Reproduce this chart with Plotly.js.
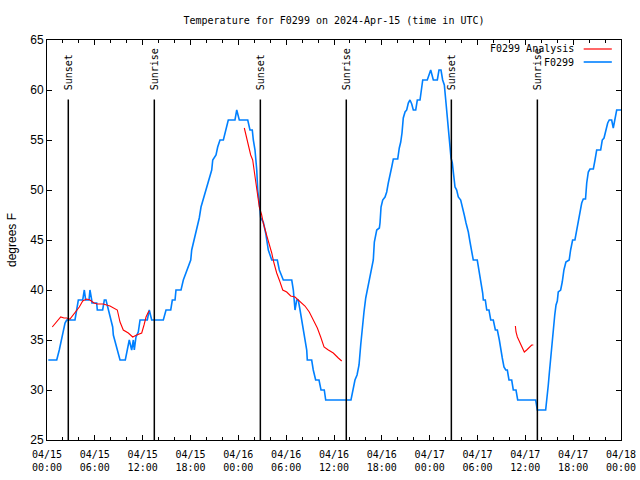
<!DOCTYPE html>
<html>
<head>
<meta charset="utf-8">
<script src="https://cdn.plot.ly/plotly-3.0.1.min.js"></script>
<style>html,body{margin:0;padding:0;background:#fff;}#chart{width:640px;height:480px;}</style>
</head>
<body>
<div id="chart"></div>
<script>
// Hours after 2024-04-15 00:00 UTC, and temperature in degrees F
const obsHours = [0.16,1.22,1.54,1.84,2.26,2.47,3.51,3.93,4.48,4.68,4.85,5.27,5.39,5.61,5.64,6.23,6.31,6.98,7.19,7.40,7.69,7.90,8.24,8.32,8.82,9.16,9.82,10.07,10.32,10.62,10.83,10.95,11.16,11.45,11.67,12.58,12.83,13.13,14.59,14.93,15.52,15.72,16.06,16.18,16.81,17.10,17.60,18.03,18.15,18.44,18.78,19.10,19.32,19.61,19.95,20.23,20.66,20.79,21.20,21.41,21.70,22.12,22.45,22.74,23.58,23.80,24.12,25.18,25.46,25.75,25.88,26.09,26.31,26.43,26.63,26.81,27.13,27.43,27.76,28.19,28.89,29.14,29.64,30.70,30.90,31.11,31.32,31.52,31.74,31.95,32.15,32.40,32.58,32.65,33.20,33.40,33.70,34.12,34.37,34.78,34.96,38.13,38.42,38.63,38.89,39.14,39.35,39.55,39.76,39.98,40.23,40.43,40.64,40.93,41.06,41.36,41.69,41.77,41.90,42.11,42.40,42.61,42.81,43.03,43.24,43.44,43.99,44.19,44.37,44.53,44.69,44.91,45.12,45.32,45.53,45.75,45.95,46.25,46.45,46.79,46.92,47.13,47.70,47.95,48.13,48.46,48.96,49.17,49.42,49.63,49.84,50.05,50.26,50.43,50.55,50.68,50.84,50.97,51.18,51.39,51.59,51.89,52.14,52.34,52.56,52.85,53.06,53.27,53.47,53.97,54.19,54.44,54.65,54.73,54.98,55.16,55.44,55.66,55.98,56.24,56.49,56.74,56.91,57.11,57.32,57.54,57.74,57.95,58.29,58.49,58.83,59.04,61.30,61.43,61.50,62.55,62.76,62.88,63.01,63.18,63.35,63.51,63.69,63.85,64.01,64.13,64.43,64.63,64.84,65.09,65.50,65.68,65.93,66.22,66.44,66.64,66.86,67.07,67.27,67.55,67.70,67.90,68.11,68.53,68.74,68.95,69.45,69.65,69.87,70.12,70.33,70.53,70.83,71.03,71.25,71.46,72.00];
const obsTemps = [33,33,34,35,36.7,37,37,39,39,40,39,39,40,39,38.7,38.7,38,38,39,39,38,37.2,36.3,35.5,34,33,33,34.2,35,34,35,34,35.3,35.8,37,37,38,37,37,38,38,39,39,40,40,41,42,43,44,45,46,47.2,48.3,49.1,50,51,52,53,53.5,54.3,55,55,56,57,57,58,57,57,56,56,55,54,52,50,48.7,47.2,46.8,45.7,44,43,43,42,41,41,40,38,39,39,38,37,36,35,34,33,33,32,31,31,30,30,29,29,30,31,31.5,32.5,34.5,36.5,37.8,39.2,40.2,41,41.7,43,44.8,46,46.2,46.7,48.3,49,49.3,49.8,50.7,51.7,52.3,53.1,53.1,54.2,54.8,55.7,57.2,57.8,58,58.7,59,58.6,58,58,59,59,60,61,61,61.7,62,61,61,62,62,61,60.5,58.7,56.7,54.8,54,53.2,52.7,51.5,50.3,50,49.3,49,48.3,47.5,46.7,45.8,44.8,44,43,43,42,41,39.7,39,39,38,38,37,37,36,36,35,34,33.2,32.3,32,32,31,31,30,30,29,29,28.3,28,28,29.3,30.5,31.7,33.2,35,36.3,37.5,38.5,38.9,39.8,40,40.8,42,42.8,43,44,45,45,46,46.8,47.8,48.7,49.1,49.1,50.7,51.8,52.1,52.1,53,54,54,55,55.2,56,56.7,57,57,56.2,57,58,58];

const anaHours1 = [0.66,1.22,1.72,2.13,2.47,2.88,3.30,3.73,4.05,4.48,4.98,5.39,5.90,6.31,7.06,7.90,8.82,9.16,9.57,10.20,10.75,11.25,11.88,12.17,12.42,12.71,12.83];
const anaTemps1 = [36.3,36.8,37.3,37.2,37.2,37.1,37.5,37.9,38.3,38.9,39.1,39,38.7,38.6,38.6,38.4,38,36.8,36,35.7,35.3,35.5,35.7,36.5,37.3,37.8,37.9];
const anaHours2 = [24.75,25.05,25.34,25.55,25.80,25.97,26.18,26.31,26.51,26.63,26.93,27.13,27.54,27.87,28.19,28.47,28.81,29.23,29.57,30.07,30.57,31.11,31.74,32.36,32.90,33.40,33.91,34.33,34.75,35.29,35.91,36.54,36.97];
const anaTemps2 = [56.2,55.2,54.5,53.5,53,52,50.8,50,49.3,48.3,47.5,46.7,45.5,44.7,43.7,42.7,41.7,40.8,40,39.8,39.4,39.3,38.8,38.4,37.8,37,36.2,35.3,34.3,34,33.7,33.2,32.9];
const anaHours3 = [58.75,58.83,59.00,59.33,59.62,59.87,60.17,60.50,60.80,61.00];
const anaTemps3 = [36.4,35.8,35.3,34.7,34.2,33.8,34,34.3,34.5,34.5];

const sunHours = [2.67,13.46,26.76,37.54,50.72,61.51];
const sunLabels = ['Sunset','Sunrise','Sunset','Sunrise','Sunset','Sunrise'];

const BASE = Date.UTC(2024,3,15);
function toDate(h){
  return new Date(BASE + h*3600000).toISOString().slice(0,19).replace('T',' ');
}

const anaX = [], anaY = [];
[[anaHours1,anaTemps1],[anaHours2,anaTemps2],[anaHours3,anaTemps3]].forEach((seg,i)=>{
  if(i>0){anaX.push(null);anaY.push(null);}
  seg[0].forEach((h,j)=>{anaX.push(toDate(h));anaY.push(seg[1][j]);});
});

const traces = [
  {x: obsHours.map(toDate), y: obsTemps, type:'scatter', mode:'lines', name:'F0299',
   line:{color:'#0080ff', width:1.6}, showlegend:false},
  {x: anaX, y: anaY, type:'scatter', mode:'lines', name:'F0299 Analysis',
   line:{color:'#ff0000', width:1.1}, connectgaps:false, showlegend:false}
];

const mono = 'DejaVu Sans Mono, monospace';
const sans = 'Liberation Sans, Arial, sans-serif';

const shapes = sunHours.map(h=>({type:'line', xref:'x', yref:'y', x0:toDate(h), x1:toDate(h), y0:25, y1:59.05,
  line:{color:'#000', width:1.5}}));
shapes.push({type:'line', xref:'paper', yref:'paper', x0:0.935, x1:0.984, y0:0.9775, y1:0.9775, line:{color:'#ff0000', width:1.2}});
shapes.push({type:'line', xref:'paper', yref:'paper', x0:0.935, x1:0.984, y0:0.945, y1:0.945, line:{color:'#0080ff', width:1.6}});

const annotations = sunHours.map((h,i)=>({x:toDate(h), y:59.8, xref:'x', yref:'y', text:sunLabels[i],
  textangle:-90, showarrow:false, xanchor:'center', yanchor:'bottom', font:{family:mono, size:10, color:'#000'}}));
annotations.push({x:0.922, y:0.9775, xref:'paper', yref:'paper', text:'F0299 Analysis', showarrow:false,
  xanchor:'right', yanchor:'middle', font:{family:mono, size:10, color:'#000'}});
annotations.push({x:0.922, y:0.945, xref:'paper', yref:'paper', text:'F0299', showarrow:false,
  xanchor:'right', yanchor:'middle', font:{family:mono, size:10, color:'#000'}});

const layout = {
  width:640, height:480,
  margin:{l:47, r:19, t:40, b:40, pad:0},
  paper_bgcolor:'#fff', plot_bgcolor:'#fff',
  title:{text:'Temperature for F0299 on 2024-Apr-15 (time in UTC)', x:0.5, xref:'paper', y:1-20/480, yanchor:'middle',
    font:{family:mono, size:10, color:'#000'}},
  showlegend:false,
  xaxis:{type:'date', range:[toDate(0), toDate(72)], dtick:21600000, tick0:toDate(0),
    tickformat:'%m/%d<br>%H:%M', ticks:'inside', ticklen:5, tickcolor:'#000', ticklabelstandoff:5,
    minor:{dtick:7200000, ticks:'inside', ticklen:3, tickcolor:'#000'},
    showline:true, linecolor:'#000', linewidth:1, mirror:'ticks', showgrid:false, zeroline:false,
    tickfont:{family:mono, size:10, color:'#000'}},
  yaxis:{range:[25,65], dtick:5, ticks:'inside', ticklen:5, tickcolor:'#000',
    showline:true, linecolor:'#000', linewidth:1, mirror:'ticks', showgrid:false, zeroline:false,
    tickfont:{family:sans, size:12, color:'#000'},
    title:{text:'degrees F', font:{family:sans, size:12, color:'#000'}, standoff:11}},
  shapes:shapes, annotations:annotations
};

Plotly.newPlot('chart', traces, layout, {displayModeBar:false, staticPlot:true});
</script>
</body>
</html>
